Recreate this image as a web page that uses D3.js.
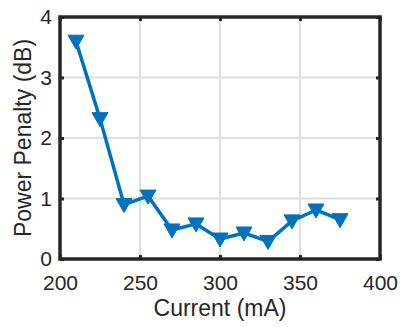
<!DOCTYPE html>
<html>
<head>
<meta charset="utf-8">
<script src="https://cdn.jsdelivr.net/npm/d3@7"></script>
<style>
  body { margin: 0; background: #fff; }
  text { font-family: "Liberation Sans", Arial, sans-serif; fill: #262626; }
</style>
</head>
<body>
<script>
// data
var current = [210, 225, 240, 255, 270, 285, 300, 315, 330, 345, 360, 375];
var penalty = [3.60, 2.32, 0.90, 1.04, 0.48, 0.58, 0.33, 0.43, 0.29, 0.63, 0.81, 0.65];
var xTicks = [200, 250, 300, 350, 400];
var yTicks = [0, 1, 2, 3, 4];

var w = 400, h = 327;
var padL = 60, padR = 380, padT = 17, padB = 259;
var blue = "#0072BD";

var svg = d3.select("body").append("svg")
    .attr("width", w)
    .attr("height", h);

var xScale = d3.scaleLinear().domain([200, 400]).range([padL, padR]);
var yScale = d3.scaleLinear().domain([0, 4]).range([padB, padT]);

// grid
svg.append("g").selectAll("line")
    .data(xTicks.slice(1, -1))
    .enter().append("line")
    .attr("x1", function (d) { return xScale(d); })
    .attr("x2", function (d) { return xScale(d); })
    .attr("y1", padT).attr("y2", padB)
    .attr("stroke", "#dedede").attr("stroke-width", 2);
svg.append("g").selectAll("line")
    .data(yTicks.slice(1, -1))
    .enter().append("line")
    .attr("y1", function (d) { return yScale(d); })
    .attr("y2", function (d) { return yScale(d); })
    .attr("x1", padL).attr("x2", padR)
    .attr("stroke", "#dedede").attr("stroke-width", 2);

// axes (ticks pointing inward)
var xAxis = d3.axisBottom(xScale).tickValues(xTicks).tickSize(-4).tickPadding(16).tickFormat(d3.format("d"));
var yAxis = d3.axisLeft(yScale).tickValues(yTicks).tickSize(-4).tickPadding(8).tickFormat(d3.format("d"));
var xTop = d3.axisTop(xScale).tickValues(xTicks).tickSize(-4).tickFormat("");
var yRight = d3.axisRight(yScale).tickValues(yTicks).tickSize(-4).tickFormat("");

function styleAxis(g) {
    g.select(".domain").remove();
    g.selectAll(".tick line").attr("stroke", "#262626").attr("stroke-width", 3);
    g.selectAll(".tick text").attr("font-size", "21px").attr("fill", "#262626");
}

svg.append("g").attr("transform", "translate(0," + padB + ")").call(xAxis).call(styleAxis);
svg.append("g").attr("transform", "translate(" + padL + ",0)").call(yAxis).call(styleAxis);
svg.append("g").attr("transform", "translate(0," + padT + ")").call(xTop).call(styleAxis);
svg.append("g").attr("transform", "translate(" + padR + ",0)").call(yRight).call(styleAxis);

// box
svg.append("rect")
    .attr("x", padL).attr("y", padT)
    .attr("width", padR - padL).attr("height", padB - padT)
    .attr("fill", "none").attr("stroke", "#262626").attr("stroke-width", 3.5);

// line
var pts = current.map(function (d, i) { return [d, penalty[i]]; });
var line = d3.line()
    .x(function (d) { return xScale(d[0]); })
    .y(function (d) { return yScale(d[1]); });
svg.append("path")
    .datum(pts)
    .attr("d", line)
    .attr("fill", "none")
    .attr("stroke", blue)
    .attr("stroke-width", 3.5)
    .attr("stroke-linejoin", "round");

// downward triangle markers
svg.selectAll("path.mk")
    .data(pts)
    .enter().append("path")
    .attr("class", "mk")
    .attr("transform", function (d) {
        return "translate(" + xScale(d[0]) + "," + yScale(d[1]) + ")";
    })
    .attr("d", "M-8,-6L8,-6L0,8Z")
    .attr("fill", blue)
    .attr("stroke", blue)
    .attr("stroke-width", 1);

// labels
svg.append("text")
    .attr("x", (padL + padR) / 2).attr("y", 316)
    .attr("text-anchor", "middle")
    .attr("font-size", "23px")
    .text("Current (mA)");
svg.append("text")
    .attr("transform", "translate(31," + (padT + padB) / 2 + ") rotate(-90)")
    .attr("text-anchor", "middle")
    .attr("font-size", "23px")
    .text("Power Penalty (dB)");
</script>
</body>
</html>
